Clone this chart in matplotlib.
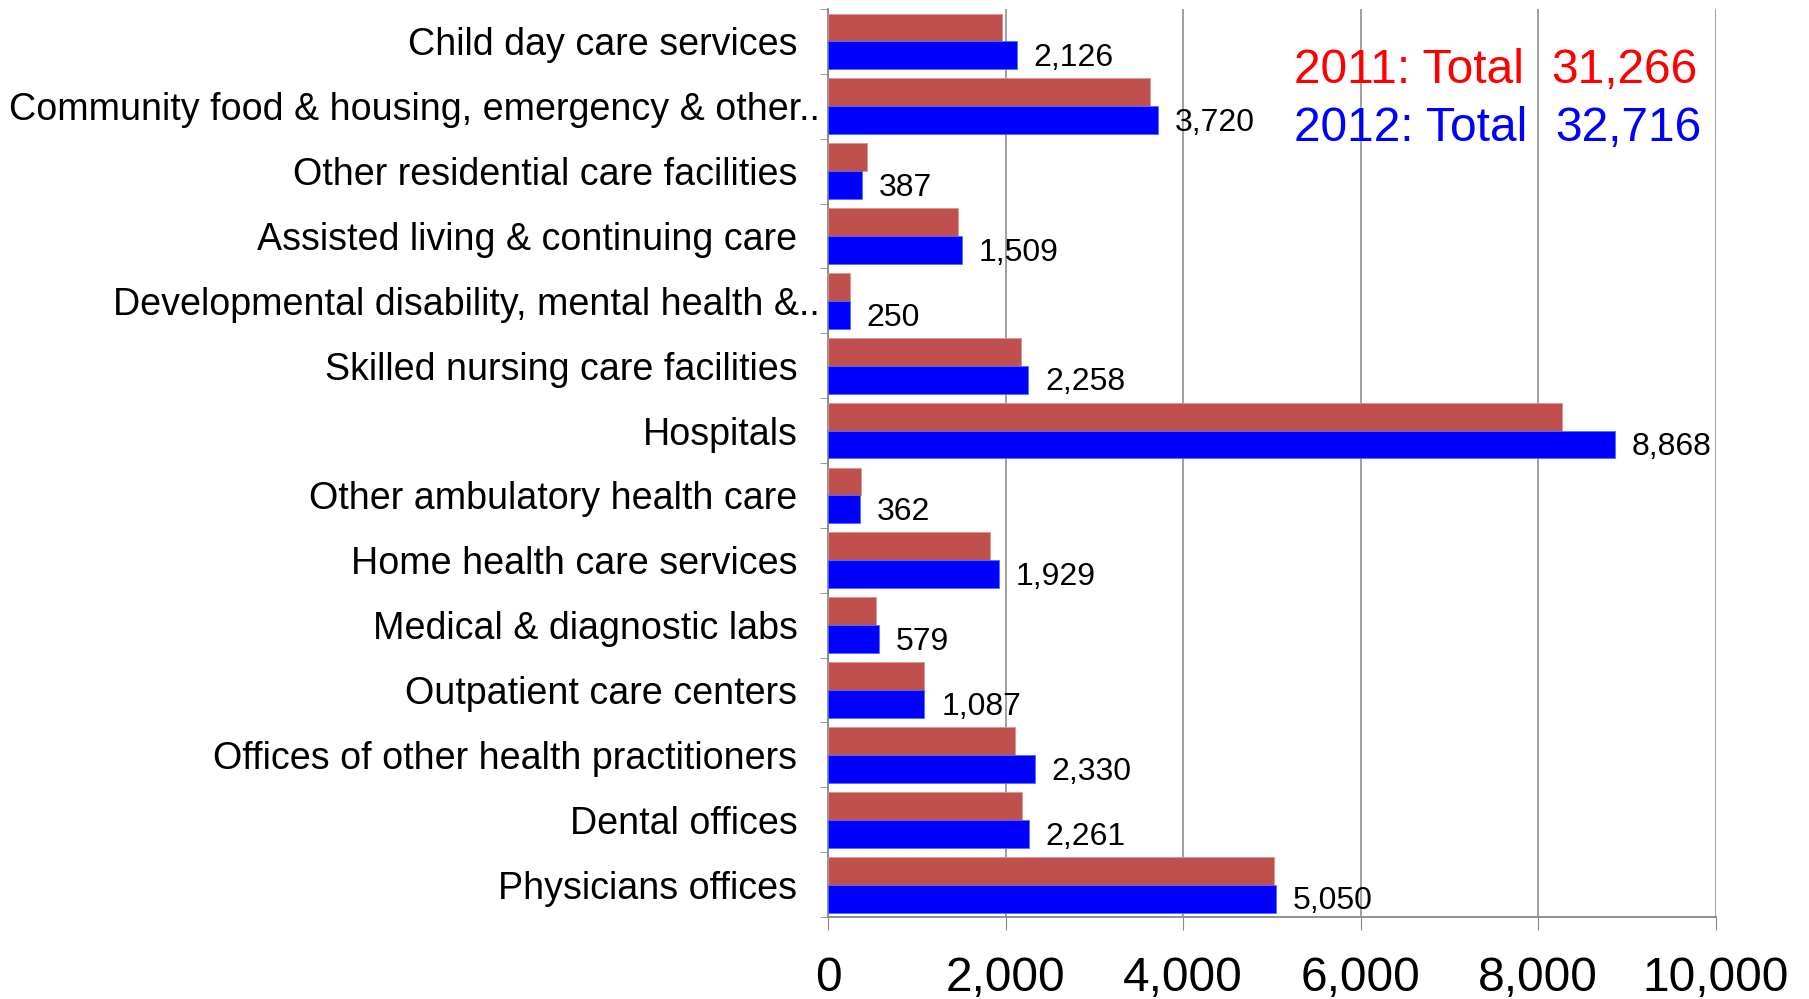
import matplotlib
matplotlib.use("Agg")
import matplotlib.pyplot as plt
import matplotlib.transforms as mtransforms
import numpy as np

plt.rcParams['font.family'] = ['Liberation Sans', 'DejaVu Sans']

categories = [
    "Child day care services",
    "Community food & housing, emergency & other..",
    "Other residential care facilities",
    "Assisted living & continuing care",
    "Developmental disability, mental health &..",
    "Skilled nursing care facilities",
    "Hospitals",
    "Other ambulatory health care",
    "Home health care services",
    "Medical & diagnostic labs",
    "Outpatient care centers",
    "Offices of other health practitioners",
    "Dental offices",
    "Physicians offices",
]
values_2011 = [1957, 3628, 436, 1461, 247, 2172, 8270, 377, 1820, 546, 1079, 2107, 2185, 5020]
values_2012 = [2126, 3720, 387, 1509, 250, 2258, 8868, 362, 1929, 579, 1087, 2330, 2261, 5050]
total_2011 = "31,266"
total_2012 = "32,716"
xticks = [0, 2000, 4000, 6000, 8000, 10000]

fig = plt.figure(figsize=(18.09, 9.99), dpi=100)
ax = fig.add_axes([0.4577, 0.082, 0.9485 - 0.4577, 0.991 - 0.082])

y = np.arange(len(categories))
h = 0.43
ax.barh(y - h / 2, values_2011, height=h, color='#C0504D', edgecolor='#D99694', linewidth=0.6, zorder=3)
ax.barh(y + h / 2, values_2012, height=h, color='#0000FF', edgecolor='#4F6FFF', linewidth=0.6, zorder=3)

for yi, v in zip(y, values_2012):
    ax.annotate(f"{v:,}", (v, yi + h / 2), xytext=(12, -2), textcoords='offset points',
                ha='left', va='center', fontsize=23, color='black', zorder=4)

ax.set_xlim(0, 10000)
ax.set_ylim(len(categories) - 0.5, -0.5)
ax.set_xticks(xticks)
ax.set_xticklabels([f"{t:,}" for t in xticks], fontsize=34.5)
ax.set_yticks(y)
ax.set_yticklabels(categories, fontsize=27.1)
ax.set_yticks(np.arange(len(categories) + 1) - 0.5, minor=True)
ax.tick_params(axis='y', which='major', length=0, pad=22)
ax.tick_params(axis='y', which='minor', length=6, color='#888888', direction='out')
ax.tick_params(axis='x', which='major', length=9, color='#888888', direction='out', pad=19)

ax.grid(axis='x', color='#999999', linewidth=1.3, zorder=0)
for s in ['top', 'right']:
    ax.spines[s].set_visible(False)
for s in ['left', 'bottom']:
    ax.spines[s].set_color('#888888')
    ax.spines[s].set_linewidth(1.3)

# truncated labels sit closer to the axis
for lab in ax.get_yticklabels():
    if lab.get_text().endswith(".."):
        lab.set_transform(lab.get_transform() + mtransforms.ScaledTranslation(16 / 72, 0, fig.dpi_scale_trans))

ax.text(0.525, 0.919, "2011: Total", transform=ax.transAxes, color='#FF0000', fontsize=34.5, ha='left', va='baseline')
ax.text(0.815, 0.919, total_2011, transform=ax.transAxes, color='#FF0000', fontsize=34.5, ha='left', va='baseline')
ax.text(0.525, 0.855, "2012: Total", transform=ax.transAxes, color='#0000FF', fontsize=34.5, ha='left', va='baseline')
ax.text(0.819, 0.855, total_2012, transform=ax.transAxes, color='#0000FF', fontsize=34.5, ha='left', va='baseline')

fig.savefig("out.png", dpi=100)
